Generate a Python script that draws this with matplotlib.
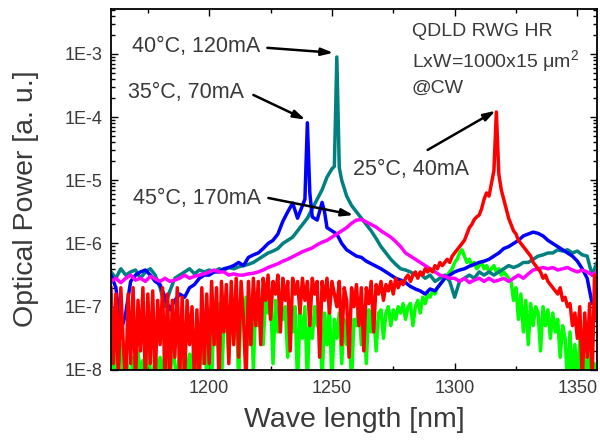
import numpy as np
import matplotlib
matplotlib.use("Agg")
import matplotlib.pyplot as plt
from matplotlib.ticker import MultipleLocator, FixedLocator, LogLocator, NullFormatter

plt.rcParams['font.family'] = ['Liberation Sans', 'DejaVu Sans']
plt.rcParams['mathtext.fontset'] = 'custom'
plt.rcParams['mathtext.rm'] = 'Liberation Sans'

# wavelength grids [nm]
wl2 = np.arange(1160, 1359, 2)
wl1 = np.arange(1160, 1359, 1)

# spectra, log10 of optical power [a.u.]
# 40C, 120mA (teal), 2 nm grid + extra points round the lasing line
p40 = [-6.45, -6.55, -6.40, -6.50, -6.45, -6.42, -6.55, -6.45, -6.40, -6.50,
       -6.70, -7.00, -6.75, -6.55, -6.50, -6.45, -6.40, -6.48, -6.42, -6.45,
       -6.42, -6.45, -6.40, -6.42, -6.38, -6.40, -6.37, -6.35, -6.33, -6.30,
       -6.25, -6.20, -6.15, -6.12, -6.08, -6.00, -5.95, -5.90, -5.80, -5.70,
       -5.60, -5.45, -5.30, -5.15, -4.95, -4.82, -3.05, -5.00, -5.25, -5.40,
       -5.50, -5.60, -5.70, -5.80, -5.92, -6.05, -6.15, -6.25, -6.33, -6.40,
       -6.42, -6.45, -6.50, -6.48, -6.55, -6.50, -6.60, -6.55, -6.50, -6.60,
       -6.85, -6.60, -6.55, -6.50, -6.55, -6.45, -6.50, -6.45, -6.50, -6.45,
       -6.40, -6.35, -6.38, -6.35, -6.30, -6.30, -6.25, -6.20, -6.18, -6.15,
       -6.15, -6.10, -6.12, -6.10, -6.15, -6.12, -6.18, -6.20, -6.50, -6.30]
wl40_x = [1251, 1253]
p40_x = [-4.78, -4.80]

# 35C, 70mA (blue)
p35 = [-6.50, -6.70, -7.40, -7.10, -6.60, -6.50, -6.45, -6.42, -6.50, -6.60,
       -6.65, -6.85, -7.05, -6.90, -6.80, -6.85, -6.70, -6.65, -6.55, -6.50,
       -6.50, -6.45, -6.45, -6.40, -6.38, -6.35, -6.30, -6.35, -6.22, -6.18,
       -6.15, -6.08, -6.00, -5.95, -5.85, -5.65, -5.50, -5.36, -5.60, -5.40,
       -4.09, -5.58, -5.63, -5.35, -5.75, -5.80, -5.85, -6.00, -6.10, -6.15,
       -6.20, -6.22, -6.28, -6.32, -6.36, -6.40, -6.45, -6.50, -6.55, -6.58,
       -6.62, -6.68, -6.72, -6.75, -6.80, -6.72, -6.75, -6.65, -6.55, -6.50,
       -6.45, -6.42, -6.40, -6.36, -6.33, -6.30, -6.28, -6.25, -6.20, -6.15,
       -6.08, -6.05, -6.00, -5.95, -5.88, -5.85, -5.82, -5.84, -5.88, -5.95,
       -6.00, -6.05, -6.10, -6.15, -6.20, -6.28, -6.40, -6.55, -6.95, -6.90]
wl35_x = [1239, 1241, 1247]
p35_x = [-5.30, -5.20, -5.50]

# 45C, 170mA (magenta)
p45 = [-6.60, -6.55, -6.62, -6.55, -6.50, -6.58, -6.55, -6.60, -6.52, -6.56,
       -6.60, -6.55, -6.60, -6.58, -6.55, -6.50, -6.55, -6.52, -6.50, -6.48,
       -6.45, -6.42, -6.45, -6.45, -6.50, -6.48, -6.50, -6.50, -6.48, -6.47,
       -6.45, -6.42, -6.38, -6.35, -6.32, -6.28, -6.25, -6.21, -6.17, -6.13,
       -6.10, -6.07, -6.02, -5.98, -5.95, -5.90, -5.85, -5.80, -5.75, -5.68,
       -5.63, -5.62, -5.66, -5.70, -5.74, -5.80, -5.85, -5.90, -5.97, -6.05,
       -6.15, -6.20, -6.25, -6.30, -6.35, -6.40, -6.45, -6.50, -6.52, -6.55,
       -6.55, -6.60, -6.55, -6.62, -6.58, -6.55, -6.60, -6.55, -6.60, -6.58,
       -6.55, -6.60, -6.55, -6.50, -6.55, -6.48, -6.42, -6.40, -6.38, -6.40,
       -6.38, -6.42, -6.40, -6.38, -6.42, -6.45, -6.42, -6.45, -6.50, -6.45]

# 25C, 40mA (red), 1 nm grid
p25 = [-6.70, -7.90, -6.80, -8.20, -6.70, -7.60, -8.20, -6.80, -7.90, -6.70,
       -8.20, -6.90, -7.70, -6.70, -8.20, -6.80, -7.90, -6.75, -8.20, -6.90,
       -7.60, -6.70, -8.20, -6.80, -8.20, -6.90, -7.80, -6.70, -8.10, -6.85,
       -8.20, -6.90, -7.60, -7.00, -8.20, -7.05, -8.20, -6.70, -7.90, -6.80,
       -7.90, -6.60, -7.60, -6.70, -8.20, -6.60, -7.40, -6.65, -7.90, -6.60,
       -7.60, -6.55, -7.80, -6.60, -7.20, -8.20, -6.60, -7.60, -6.55, -7.30,
       -6.60, -7.60, -6.55, -6.90, -6.50, -7.20, -6.60, -6.80, -6.50, -7.40,
       -6.55, -6.90, -6.60, -7.70, -6.55, -6.80, -6.60, -7.10, -6.55, -6.90,
       -6.60, -7.30, -6.55, -6.80, -6.60, -7.80, -6.60, -6.90, -6.55, -7.10,
       -6.60, -6.80, -7.00, -6.60, -7.60, -6.70, -6.90, -7.80, -6.70, -7.00,
       -6.65, -7.30, -6.70, -7.70, -6.70, -6.95, -6.60, -7.40, -6.65, -6.80,
       -6.60, -6.90, -6.65, -6.75, -6.60, -6.80, -6.55, -6.70, -6.60, -6.65,
       -6.55, -6.50, -6.60, -6.50, -6.45, -6.55, -6.45, -6.50, -6.40, -6.45,
       -6.40, -6.45, -6.35, -6.40, -6.30, -6.35, -6.30, -6.25, -6.30, -6.20,
       -6.15, -6.10, -6.05, -6.00, -5.95, -5.85, -5.75, -5.70, -5.62, -5.58,
       -5.55, -5.45, -5.30, -5.20, -5.25, -5.05, -4.85, -3.92, -4.90, -5.15,
       -5.30, -5.45, -5.60, -5.70, -5.80, -5.85, -5.95, -6.00, -6.05, -6.10,
       -6.15, -6.20, -6.30, -6.35, -6.40, -6.45, -6.55, -6.50, -6.60, -6.65,
       -6.70, -6.75, -6.80, -6.70, -6.90, -6.85, -7.00, -6.95, -7.30, -7.10,
       -7.50, -7.00, -8.20, -7.10, -7.80, -6.95, -8.20, -6.50, -7.20]

# unlabelled spectrum (green), 1 nm grid
p30 = [-7.70, -8.20, -7.60, -7.90, -7.60, -8.20, -7.75, -8.00, -8.20, -7.80,
       -8.20, -7.70, -8.10, -7.85, -8.20, -7.60, -8.00, -8.20, -7.70, -8.10,
       -7.80, -8.20, -7.65, -8.00, -8.20, -7.60, -7.90, -8.20, -7.70, -8.00,
       -7.60, -8.20, -7.75, -8.00, -7.50, -8.20, -7.60, -7.90, -7.30, -8.10,
       -7.20, -8.20, -7.00, -7.60, -6.95, -8.20, -7.30, -7.00, -7.80, -6.90,
       -7.50, -6.90, -8.20, -6.95, -7.20, -6.85, -7.60, -6.90, -8.00, -6.85,
       -7.30, -6.90, -7.60, -6.85, -7.10, -6.80, -7.90, -6.90, -7.40, -6.85,
       -7.20, -7.00, -7.80, -7.05, -7.40, -7.00, -8.20, -7.10, -7.50, -7.00,
       -8.20, -7.05, -7.50, -7.00, -7.30, -6.95, -8.20, -7.10, -7.60, -7.00,
       -8.20, -7.20, -7.50, -7.10, -7.90, -7.20, -7.60, -7.30, -8.20, -7.20,
       -7.30, -6.95, -7.60, -7.00, -7.90, -7.05, -7.40, -7.00, -7.70, -7.10,
       -7.05, -7.50, -7.10, -7.00, -7.30, -7.05, -7.20, -7.00, -7.10, -6.95,
       -7.20, -7.00, -6.95, -7.30, -7.00, -6.90, -7.10, -6.85, -6.95, -6.80,
       -6.85, -6.75, -6.80, -6.70, -6.65, -6.60, -6.55, -6.50, -6.45, -6.40,
       -6.30, -6.25, -6.15, -6.10, -6.20, -6.30, -6.25, -6.35, -6.30, -6.40,
       -6.35, -6.30, -6.40, -6.35, -6.45, -6.40, -6.35, -6.45, -6.40, -6.50,
       -6.45, -6.50, -6.55, -6.60, -6.90, -6.70, -7.20, -6.80, -7.40, -6.90,
       -7.60, -6.95, -7.30, -7.00, -7.10, -7.70, -7.00, -7.30, -7.05, -7.50,
       -7.10, -7.40, -7.20, -7.80, -7.30, -7.50, -8.20, -7.40, -8.20, -7.60,
       -8.20, -7.50, -8.20, -7.80, -8.20, -7.60, -8.20, -7.90, -8.20]

ytick_vals = [1e-8, 1e-7, 1e-6, 1e-5, 1e-4, 1e-3]
ytick_labels = ['1E-8', '1E-7', '1E-6', '1E-5', '1E-4', '1E-3']


def merge(x, y, xe, ye):
    xx = np.concatenate([x, xe])
    yy = np.concatenate([y, ye])
    i = np.argsort(xx)
    return xx[i], 10.0 ** yy[i]


fig = plt.figure(figsize=(6, 4.43), dpi=100)
ax = fig.add_axes([0.185, 0.165, 0.81, 0.815])

lw = 2.5
ax.plot(wl1, 10.0 ** np.array(p30), color='#00ff00', lw=lw)
x, y = merge(wl2, p40, wl40_x, p40_x)
ax.plot(x, y, color='#008080', lw=lw)
x, y = merge(wl2, p35, wl35_x, p35_x)
ax.plot(x, y, color='#0000ff', lw=lw)
ax.plot(wl2, 10.0 ** np.array(p45), color='#ff00ff', lw=lw)
ax.plot(wl1, 10.0 ** np.array(p25), color='#ff0000', lw=lw)

ax.set_yscale('log')
ax.set_xlim(1160, 1358)
ax.set_ylim(1e-8, 5.15e-3)
ax.yaxis.set_major_locator(FixedLocator(ytick_vals))
ax.set_yticklabels(ytick_labels)
ax.yaxis.set_minor_locator(LogLocator(base=10, subs=np.arange(2, 10)))
ax.yaxis.set_minor_formatter(NullFormatter())
ax.xaxis.set_major_locator(FixedLocator([1200, 1250, 1300, 1350]))
ax.xaxis.set_minor_locator(MultipleLocator(25))

tc = '#3a3a3a'
ax.tick_params(which='both', direction='in', top=True, right=True,
               labelsize=13, labelcolor=tc, width=1)
ax.tick_params(which='major', length=5)
ax.tick_params(which='minor', length=3)
ax.tick_params(axis='x', pad=7)
ax.tick_params(axis='y', pad=6)
for s in ax.spines.values():
    s.set_linewidth(1.3)

fig.text(26 / 600, 1 - 199 / 443, 'Optical Power [a. u.]', rotation=90,
         ha='center', va='center', fontsize=20.5, color=tc)
fig.text(354 / 600, 1 - 420 / 443, 'Wave length [nm]',
         ha='center', va='center', fontsize=20.5, color=tc)

fs = 15.5
ax.text(0.043, 0.895, '40°C, 120mA', transform=ax.transAxes,
        ha='left', va='center', fontsize=fs, color=tc)
ax.text(0.035, 0.767, '35°C, 70mA', transform=ax.transAxes,
        ha='left', va='center', fontsize=fs, color=tc)
ax.text(0.045, 0.476, '45°C, 170mA', transform=ax.transAxes,
        ha='left', va='center', fontsize=fs, color=tc)
ax.text(0.498, 0.554, '25°C, 40mA', transform=ax.transAxes,
        ha='left', va='center', fontsize=fs, color=tc)

ax.text(0.619, 0.936, 'QDLD RWG HR', transform=ax.transAxes,
        ha='left', va='center', fontsize=14, color=tc)
ax.text(0.619, 0.853, 'LxW=1000x15 μm$^{2}$', transform=ax.transAxes,
        ha='left', va='center', fontsize=14, color=tc)
ax.text(0.619, 0.781, '@CW', transform=ax.transAxes,
        ha='left', va='center', fontsize=14, color=tc)

arrow = dict(arrowstyle='-|>,head_length=0.7,head_width=0.22', color='black',
             lw=1.8, shrinkA=0, shrinkB=0)
ax.annotate('', xy=(1250.6, 1.04e-3), xytext=(1223.7, 1.245e-3), arrowprops=arrow)
ax.annotate('', xy=(1239.2, 10 ** -4.04), xytext=(1218.0, 10 ** -3.65), arrowprops=arrow)
ax.annotate('', xy=(1258.8, 10 ** -5.55), xytext=(1224.1, 10 ** -5.28), arrowprops=arrow)
ax.annotate('', xy=(1316.7, 10 ** -3.90), xytext=(1289.0, 10 ** -4.52), arrowprops=arrow)

fig.savefig('out.png', dpi=100)
